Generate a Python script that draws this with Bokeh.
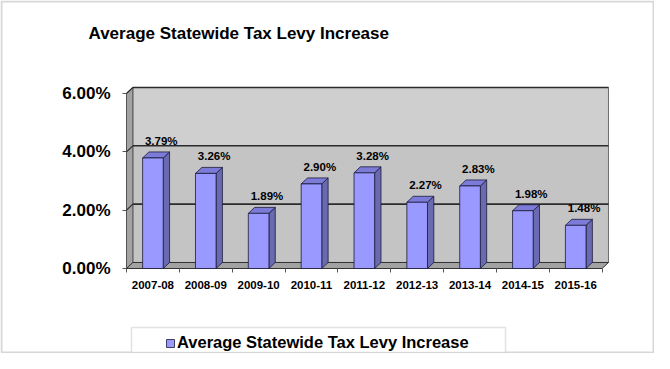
from bokeh.plotting import figure
from bokeh.models import (Range1d, FixedTicker, Legend, LegendItem, BoxAnnotation,
                          ColumnDataSource, LinearAxis, Label)
from bokeh.embed import file_html
from bokeh.resources import INLINE

# ---- data ----
categories = ["2007-08", "2008-09", "2009-10", "2010-11", "2011-12",
              "2012-13", "2013-14", "2014-15", "2015-16"]
values = [3.79, 3.26, 1.89, 2.90, 3.28, 2.27, 2.83, 1.98, 1.48]
y_ticks = [0, 2, 4, 6]
y_tick_labels = ["0.00%", "2.00%", "4.00%", "6.00%"]
series_name = "Average Statewide Tax Levy Increase"
title_text = "Average Statewide Tax Levy Increase"

# ---- layout / style constants ----
W, H = 654, 353
X0_PX, Y0_PX = 126, 268      # canvas position of data origin (front-left-bottom)
U = 52.85                     # px per category
V = 29.167                    # px per percent
DX = 0.12                     # 3D depth offset along x (category units)
DY = 0.206                    # 3D depth offset along y (percent units)
BW = 0.39                     # bar width
N = len(categories)
YMAX = y_ticks[-1]

p = figure(width=W, height=H, output_backend="svg", toolbar_location=None,
           x_range=Range1d(-X0_PX / U, (W - X0_PX) / U),
           y_range=Range1d(-(H - Y0_PX) / V, Y0_PX / V),
           min_border=0, min_border_left=0, min_border_right=0,
           min_border_top=0, min_border_bottom=0,
           x_axis_location=None, y_axis_location=None)
p.outline_line_color = None
p.background_fill_color = "white"
p.border_fill_color = "white"
p.xgrid.visible = False
p.ygrid.visible = False

# ---- outer border and legend box ----
border = BoxAnnotation(left=1, right=W - 1, top=1, bottom=H - 1,
                       left_units="canvas", right_units="canvas",
                       top_units="canvas", bottom_units="canvas",
                       fill_alpha=0, line_color="#7a7a7a", line_width=2,
                       level="underlay")
p.add_layout(border)
box = BoxAnnotation(left=131, right=505, top=327, bottom=352,
                    left_units="canvas", right_units="canvas",
                    top_units="canvas", bottom_units="canvas",
                    fill_color="white", fill_alpha=1.0,
                    line_color="#a0a0a0", line_width=1.5, level="underlay")
p.add_layout(box)

# ---- walls ----
p.quad(left=[DX], right=[N + DX], bottom=[y_ticks[-2] + DY], top=[YMAX + DY],
       fill_color="#cfcfcf", line_color=None)
p.quad(left=[DX], right=[N + DX], bottom=[DY], top=[y_ticks[-2] + DY],
       fill_color="#c4c4c4", line_color=None)
p.quad(left=[DX], right=[N + DX], bottom=[DY], top=[YMAX + DY],
       fill_color=None, line_color="#6e6e6e", line_width=1)
# side wall
p.patch(x=[0, DX, DX, 0], y=[0, DY, YMAX + DY, YMAX],
        fill_color="#a3a3a3", line_color="#555555", line_width=1)
# gridlines on back wall and side wall
grid_vals = [t for t in y_ticks if t > 0]
p.segment(x0=[DX] * len(grid_vals), y0=[t + DY for t in grid_vals],
          x1=[N + DX] * len(grid_vals), y1=[t + DY for t in grid_vals],
          line_color="#2b2b2b", line_width=1.6)
p.segment(x0=[0] * len(grid_vals), y0=grid_vals,
          x1=[DX] * len(grid_vals), y1=[t + DY for t in grid_vals],
          line_color="#2b2b2b", line_width=1.2)
# floor
p.patch(x=[0, N, N + DX, DX], y=[0, 0, DY, DY],
        fill_color="#a2a2a2", line_color="#333333", line_width=1)

# ---- bars ----
centers = [i + 0.5 for i in range(N)]
src = ColumnDataSource(dict(
    left=[c - BW / 2 for c in centers],
    right=[c + BW / 2 for c in centers],
    top=values,
    bottom=[0] * N,
))
side_xs, side_ys, top_xs, top_ys = [], [], [], []
for c, v in zip(centers, values):
    r = c + BW / 2
    l = c - BW / 2
    side_xs.append([r, r + DX, r + DX, r])
    side_ys.append([0, DY, v + DY, v])
    top_xs.append([l, r, r + DX, l + DX])
    top_ys.append([v, v, v + DY, v + DY])
p.patches(xs=side_xs, ys=side_ys, fill_color="#6a6ab0", line_color="#1a1a3a", line_width=0.8)
p.patches(xs=top_xs, ys=top_ys, fill_color="#7c7cd8", line_color="#1a1a3a", line_width=0.8)
front = p.quad(left="left", right="right", top="top", bottom="bottom", source=src,
               fill_color="#9999ff", line_color="#1a1a3a", line_width=0.8)

# data labels
lab_src = ColumnDataSource(dict(
    x=[c + DX for c in centers],
    y=[v + DY for v in values],
    t=[f"{v:.2f}%" for v in values],
))
p.text(x="x", y="y", text="t", source=lab_src, text_align="center",
       text_baseline="alphabetic", y_offset=-11, x_offset=2,
       text_font_size="11.5px", text_font_style="bold",
       text_font={"value": "Liberation Sans"}, text_color="black")

# ---- axes (fixed at the data origin, inside the frame) ----
yaxis = LinearAxis(ticker=FixedTicker(ticks=y_ticks), fixed_location=0,
                   major_label_overrides={t: s for t, s in zip(y_ticks, y_tick_labels)})
yaxis.axis_line_color = None
yaxis.major_tick_line_color = "#555555"
yaxis.major_tick_out = 4
yaxis.major_tick_in = 0
yaxis.minor_tick_line_color = None
yaxis.major_label_standoff = 12
yaxis.major_label_text_font = "Liberation Sans"
yaxis.major_label_text_font_style = "bold"
yaxis.major_label_text_font_size = "17px"
yaxis.major_label_text_color = "black"
p.add_layout(yaxis, "left")

xaxis = LinearAxis(ticker=FixedTicker(ticks=centers, minor_ticks=list(range(N + 1))),
                   fixed_location=0,
                   major_label_overrides={c: s for c, s in zip(centers, categories)})
xaxis.axis_line_color = None
xaxis.major_tick_line_color = None
xaxis.major_tick_out = 0
xaxis.major_tick_in = 0
xaxis.minor_tick_line_color = "#555555"
xaxis.minor_tick_out = 4
xaxis.minor_tick_in = 0
xaxis.major_label_standoff = 8
xaxis.major_label_text_font = "Liberation Sans"
xaxis.major_label_text_font_style = "bold"
xaxis.major_label_text_font_size = "11.5px"
xaxis.major_label_text_color = "black"
p.add_layout(xaxis, "below")

# ---- title ----
title = Label(text=title_text, x=88, y=H - 33, x_units="screen", y_units="screen",
              text_font="Liberation Sans", text_font_style="bold",
              text_font_size="17px", text_color="black",
              text_baseline="alphabetic", text_align="left")
p.add_layout(title)

# ---- legend ----
legend = Legend(items=[LegendItem(label=series_name, renderers=[front])],
                location=(165, 1), orientation="vertical",
                border_line_color=None, background_fill_alpha=0,
                padding=3, margin=0, spacing=0,
                glyph_width=10, glyph_height=10, label_standoff=2,
                label_text_font="Liberation Sans", label_text_font_style="bold",
                label_text_font_size="16.5px", label_height=10,
                label_text_color="black")
p.add_layout(legend)

open("out.html", "w").write(file_html(p, INLINE))
